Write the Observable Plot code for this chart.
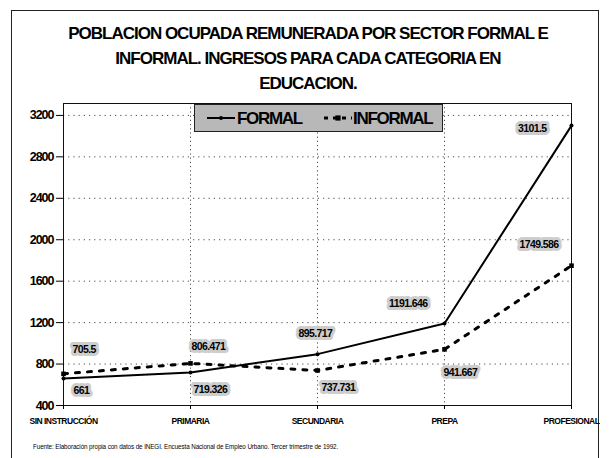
<!DOCTYPE html>
<html>
<head>
<meta charset="utf-8">
<script src="https://cdn.jsdelivr.net/npm/d3@7"></script>
<script src="https://cdn.jsdelivr.net/npm/@observablehq/plot@0.6"></script>
<style>
  html, body { margin: 0; padding: 0; background: #fff; }
  #wrap { position: relative; width: 609px; height: 458px; overflow: hidden; font-family: "Liberation Sans", Arial, sans-serif; }
  #border { position: absolute; left: 11px; top: 10px; width: 588px; height: 450px; border: 1px solid #222; box-sizing: border-box; }
  #title { position: absolute; left: 0; top: 21px; width: 616px; text-align: center; font-weight: bold; font-size: 17px; line-height: 25px; letter-spacing: -1px; color: #000; }
  #chart { position: absolute; left: 0; top: 0; }
  #legend { position: absolute; left: 194px; top: 104px; width: 249px; height: 28px; box-sizing: border-box; border: 1px solid #222;
    background-color: #d2d2d2;
    background-image: radial-gradient(#999 0.6px, transparent 0.8px);
    background-size: 2px 2px; }
  #legend .lab { position: absolute; top: 4px; font-weight: bold; font-size: 17px; letter-spacing: -1.3px; color: #000; }
  #legend svg { position: absolute; }
  #caption { position: absolute; left: 33px; top: 443px; font-size: 6.3px; color: #000; letter-spacing: -0.1px; }
  .chart g[aria-label="y-axis tick label"] text { letter-spacing: -1px; }
  .chart g[aria-label="x-axis tick label"] text { letter-spacing: -0.5px; }
  .chart g.lbl text { letter-spacing: -0.6px; }
</style>
</head>
<body>
<div id="wrap">
  <div id="border"></div>
  <div id="chart"></div>
  <div id="title">POBLACION OCUPADA REMUNERADA POR SECTOR FORMAL E<br>INFORMAL. INGRESOS PARA CADA CATEGORIA EN<br>EDUCACION.</div>
  <div id="legend"></div>
  <div id="caption"></div>
</div>
<script>
// ---- data ----
const categories = ["SIN INSTRUCCIÓN", "PRIMARIA", "SECUNDARIA", "PREPA", "PROFESIONAL"];
const formal = [661, 719.326, 895.717, 1191.646, 3101.5];
const informal = [705.5, 806.471, 737.731, 941.667, 1749.586];
const formalLabels = ["661", "719.326", "895.717", "1191.646", "3101.5"];
const informalLabels = ["705.5", "806.471", "737.731", "941.667", "1749.586"];
const yTicks = [400, 800, 1200, 1600, 2000, 2400, 2800, 3200];
const seriesNames = ["FORMAL", "INFORMAL"];
const captionText = "Fuente: Elaboración propia con datos de INEGI. Encuesta Nacional de Empleo Urbano. Tercer trimestre de 1992.";

// ---- build tables ----
const formalData = categories.map((c, i) => ({cat: c, value: formal[i], label: formalLabels[i], i}));
const informalData = categories.map((c, i) => ({cat: c, value: informal[i], label: informalLabels[i], i}));

// label placement (layout only)
const formalOff = [[10, 12, "start"], [3, 17, "start"], [-19, -21, "start"], [-17, -20, "end"], [-25, 3, "end"]];
const informalOff = [[9, -24, "start"], [1, -17, "start"], [4, 17, "start"], [-1, 23, "start"], [-13, -21, "end"]];

function labelMarks(data, offs) {
  return data.map((d, k) => Plot.text([d], {
    x: "cat", y: "value", text: "label",
    dx: offs[k][0], dy: offs[k][1], textAnchor: offs[k][2],
    fontSize: 10.5, fontWeight: "bold", fill: "#000",
    stroke: "#cdcdcd", strokeWidth: 6, className: "lbl"
  }));
}

const plot = Plot.plot({
  width: 609,
  height: 458,
  marginLeft: 63,
  marginRight: 38,
  marginTop: 103,
  marginBottom: 53,
  className: "chart",
  style: { fontFamily: "Liberation Sans, Arial, sans-serif", background: "transparent", color: "#000" },
  x: { type: "point", domain: categories, padding: 0 },
  y: { domain: [400, 3315] },
  marks: [
    Plot.gridY(yTicks, { stroke: "#000", strokeOpacity: 0.7, strokeDasharray: "1.2,4" }),
    Plot.gridX(categories, { stroke: "#000", strokeOpacity: 0.7, strokeDasharray: "1.2,3" }),
    Plot.frame({ stroke: "#111", strokeWidth: 1 }),
    Plot.axisY(yTicks, { tickSize: 7, tickPadding: 3, fontSize: 12.5, fontWeight: "bold", tickFormat: d => String(d), label: null }),
    Plot.axisX({ tickSize: 4, tickPadding: 8, fontSize: 8.5, fontWeight: 600, label: null }),
    Plot.line(informalData, { x: "cat", y: "value", stroke: "#000", strokeWidth: 3, strokeDasharray: "4,8" }),
    Plot.line(formalData, { x: "cat", y: "value", stroke: "#000", strokeWidth: 2 }),
    Plot.dot(informalData, { x: "cat", y: "value", symbol: "square", r: 2.6, fill: "#000" }),
    Plot.dot(formalData, { x: "cat", y: "value", r: 2, fill: "#000" }),
    ...labelMarks(formalData, formalOff),
    ...labelMarks(informalData, informalOff)
  ]
});
document.getElementById("chart").appendChild(plot);

// ---- legend ----
const legend = document.getElementById("legend");
legend.innerHTML =
  `<svg style="left:11px;top:6px" width="30" height="14"><line x1="1" y1="7" x2="29" y2="7" stroke="#000" stroke-width="2"/><circle cx="15" cy="7" r="2" fill="#000"/></svg>` +
  `<span class="lab" style="left:42px">${seriesNames[0]}</span>` +
  `<svg style="left:128px;top:6px" width="30" height="14"><line x1="1" y1="7" x2="29" y2="7" stroke="#000" stroke-width="3" stroke-dasharray="4,5"/><rect x="12.4" y="4.4" width="5.2" height="5.2" fill="#000"/></svg>` +
  `<span class="lab" style="left:158px">${seriesNames[1]}</span>`;

document.getElementById("caption").textContent = captionText;
</script>
</body>
</html>
